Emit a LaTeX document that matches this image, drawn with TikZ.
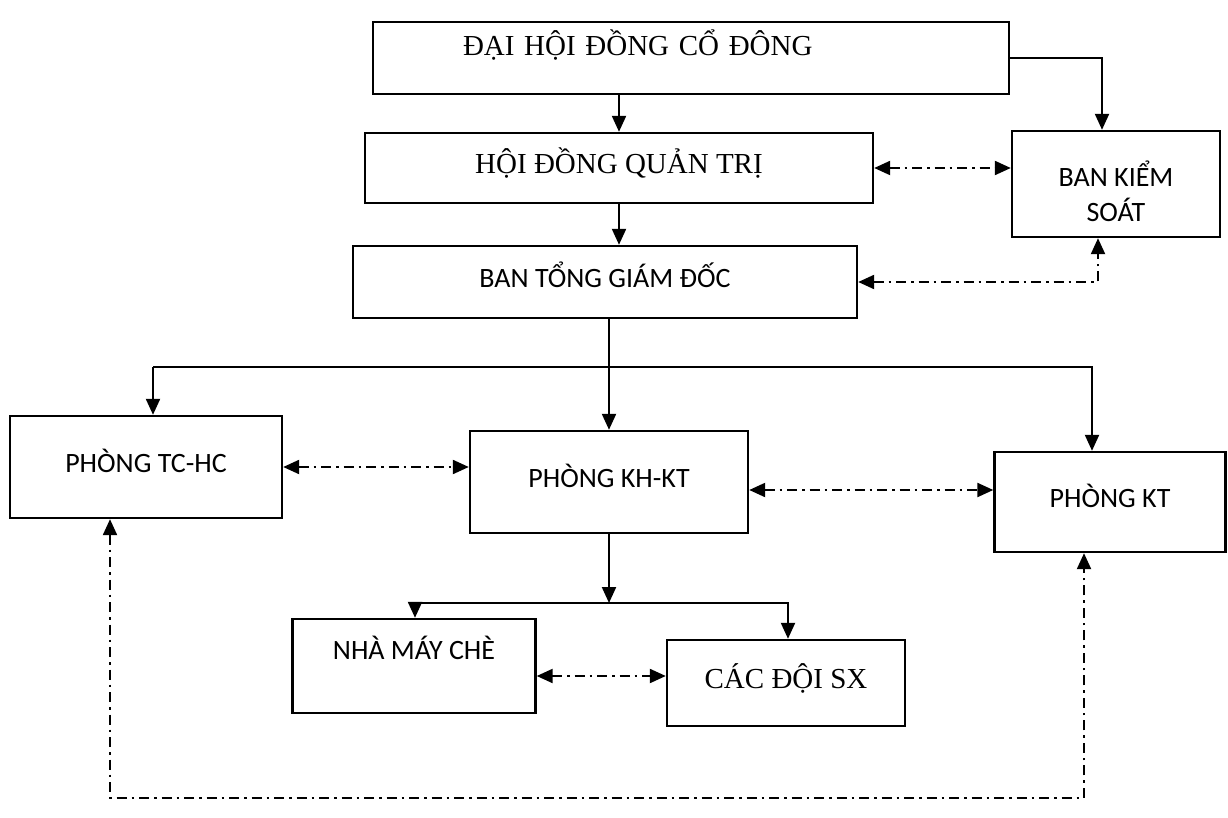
\documentclass[tikz,border=0pt]{standalone}
\usepackage{fontspec}
\setmainfont{Liberation Serif}
\newfontfamily\calibri{Carlito}
\usepackage{tikz}
\usetikzlibrary{arrows.meta}
\tikzset{
>={Triangle[length=16pt,width=14pt]}, % filled arrow heads
box/.style={draw, line width=2.4pt, inner sep=4pt}, % frame of every unit
serif/.style={box, font=\fontsize{29}{34}\selectfont, text height=18pt, text depth=7pt}, % units set in Times
sans/.style={box, font=\calibri\fontsize{28}{35}\selectfont, text height=18pt, text depth=7pt}, % units set in Calibri
arr/.style={->, line width=2.2pt}, % line of command
link/.style={<->, line width=2.2pt, dash pattern=on 10pt off 5pt on 2.5pt off 5pt}, % line of coordination
}

\begin{document}
\begin{tikzpicture}[x=1pt, y=-1pt]
		\useasboundingbox (0,0) rectangle (1228,818);

		\node[serif, text width=456pt, inner xsep=90pt, align=left, minimum height=72pt, text depth=22pt] (dhdcd) at (691,58) {ĐẠI HỘI ĐỒNG CỔ ĐÔNG};
		\node[serif, minimum width=508pt, minimum height=70pt] (hdqt) at (619,168) {HỘI ĐỒNG QUẢN TRỊ};
		\node[sans, minimum width=208pt, minimum height=106pt, align=center, text height=76pt, text depth=0pt] (bks) at (1116,184) {BAN KIỂM\\SOÁT};
		\node[sans, minimum width=504pt, minimum height=72pt] (btgd) at (605,282) {BAN TỔNG GIÁM ĐỐC};
		\node[sans, minimum width=272pt, minimum height=102pt] (tchc) at (146,467) {PHÒNG TC-HC};
		\node[sans, minimum width=278pt, minimum height=102pt] (khkt) at (609,482) {PHÒNG KH-KT};
		\node[sans, minimum width=231pt, minimum height=100pt] (kt) at (1110,502) {PHÒNG KT};
		\node[sans, minimum width=243pt, minimum height=94pt, text depth=32pt] (nmc) at (414,666) {NHÀ MÁY CHÈ};
		\node[serif, minimum width=238pt, minimum height=86pt] (cdsx) at (786,683) {CÁC ĐỘI SX};

		\coordinate (busL) at (153,367);
		\coordinate (busR) at (1092,367);
		\coordinate (subL) at (415,603);
		\coordinate (subR) at (788,603);
		\coordinate (loopL) at (110,798);
		\coordinate (loopR) at (1084,798);

		\draw[arr] (dhdcd.south -| hdqt) -- (hdqt);
		\draw[arr] (dhdcd) -| ([xshift=-14pt]bks.north);
		\draw[arr] (hdqt) -- (hdqt |- btgd.north);
		\draw[arr] (btgd.south -| khkt) -- (khkt);
		\draw[arr] (busL) -- (busL |- tchc.north);
		\draw[arr] (busL) -- (busR) -- (busR |- kt.north);
		\draw[arr] (khkt) -- (khkt |- subL);
		\draw[arr] (subL) -- (subL |- nmc.north);
		\draw[arr] (subL) -- (subR) -- (subR |- cdsx.north);

		\draw[link] (hdqt) -- (hdqt -| bks.west);
		\draw[link] (btgd) -| ([xshift=-18pt]bks.south);
		\draw[link] (tchc) -- (tchc -| khkt.west);
		\draw[link] ([yshift=-8pt]khkt.east) -- ([yshift=-8pt]khkt.east -| kt.west);
		\draw[link] ([yshift=-10pt]nmc.east) -- ([yshift=-10pt]nmc.east -| cdsx.west);
		\draw[link] (loopL |- tchc.south) -- (loopL) -- (loopR) -- (loopR |- kt.south);
	\end{tikzpicture}
\end{document}
